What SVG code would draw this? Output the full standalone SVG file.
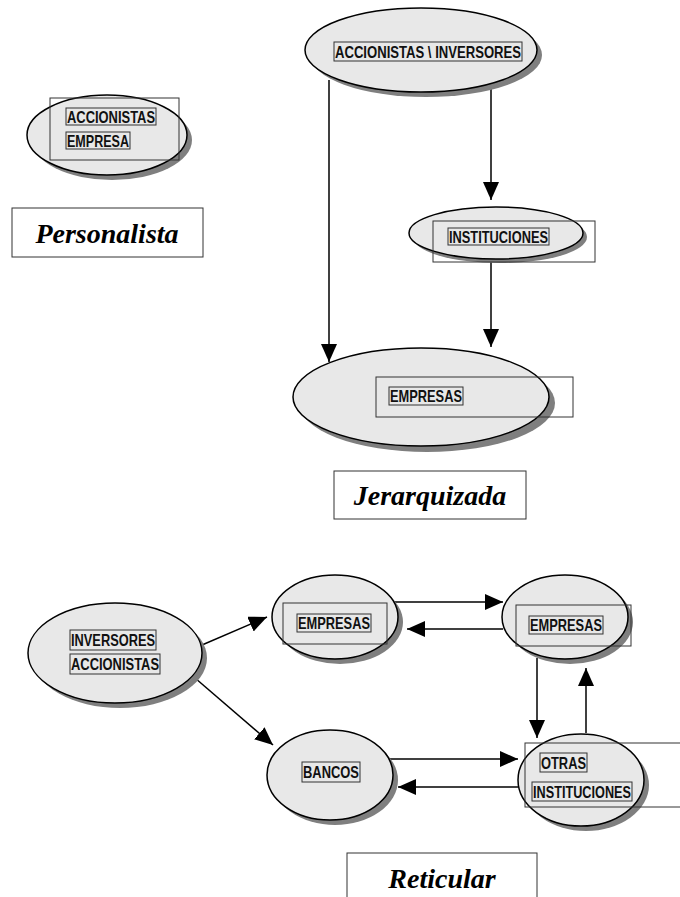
<svg xmlns="http://www.w3.org/2000/svg" width="680" height="897" viewBox="0 0 680 897">
<style>
.sh{fill:#7f7f7f;stroke:none}
.el{fill:#e8e8e8;stroke:#000;stroke-width:1.5}
.fr{fill:none;stroke:#333;stroke-width:1}
.tb{fill:none;stroke:#333;stroke-width:1}
.lb{font-family:"Liberation Sans Narrow","Liberation Sans",Arial,sans-serif;font-weight:bold;font-size:16.5px;fill:#111}
.ttl{font-family:"Liberation Serif","Times New Roman",serif;font-weight:bold;font-style:italic;font-size:28px;fill:#000;text-anchor:middle}
.tbox{fill:#fff;stroke:#333;stroke-width:1}
.cn{stroke:#000;stroke-width:1.5;fill:none;marker-end:url(#ah)}
</style>
<defs>
<marker id="ah" markerUnits="userSpaceOnUse" markerWidth="20" markerHeight="18" refX="18" refY="8" orient="auto">
<path d="M0,0 L18,8 L0,16 Z" fill="#000"/>
</marker>
</defs>
<rect width="680" height="897" fill="#fff"/>

<g id="connectors">
<line class="cn" x1="329" y1="80" x2="329" y2="362"/>
<line class="cn" x1="491" y1="86" x2="491" y2="200"/>
<line class="cn" x1="491" y1="262" x2="491" y2="347"/>
<line class="cn" x1="202" y1="645" x2="267" y2="617"/>
<line class="cn" x1="195" y1="678" x2="273" y2="745"/>
<line class="cn" x1="395" y1="602" x2="503" y2="602"/>
<line class="cn" x1="503" y1="629" x2="407" y2="629"/>
<line class="cn" x1="537" y1="658" x2="537" y2="738"/>
<line class="cn" x1="586" y1="733" x2="586" y2="668"/>
<line class="cn" x1="390" y1="759" x2="518" y2="759"/>
<line class="cn" x1="518" y1="787" x2="398" y2="787"/>
</g>

<g id="personalista">
<ellipse class="sh" cx="112" cy="140" rx="80" ry="40"/>
<ellipse class="el" cx="107" cy="135" rx="80" ry="40"/>
<rect class="fr" x="50" y="98" width="129" height="62"/>
<rect class="tb" x="66" y="108" width="90" height="17"/>
<text class="lb" x="67" y="123" textLength="88" lengthAdjust="spacingAndGlyphs">ACCIONISTAS</text>
<rect class="tb" x="66" y="132" width="64" height="17"/>
<text class="lb" x="67" y="147" textLength="62" lengthAdjust="spacingAndGlyphs">EMPRESA</text>
</g>
<g id="title-personalista">
<rect class="tbox" x="12" y="208" width="191" height="49"/>
<text class="ttl" x="107" y="243">Personalista</text>
</g>

<g id="accionistas-inversores">
<ellipse class="sh" cx="426" cy="55" rx="116" ry="42"/>
<ellipse class="el" cx="421" cy="50" rx="116" ry="42"/>
<rect class="tb" x="334" y="42" width="188" height="19"/>
<text class="lb" x="335" y="58" textLength="186" lengthAdjust="spacingAndGlyphs">ACCIONISTAS \ INVERSORES</text>
</g>

<g id="instituciones">
<ellipse class="sh" cx="500" cy="237" rx="87" ry="26"/>
<ellipse class="el" cx="496" cy="233" rx="87" ry="26"/>
<rect class="fr" x="433" y="221" width="162" height="41"/>
<rect class="tb" x="448" y="228" width="101" height="17"/>
<text class="lb" x="449" y="243" textLength="99" lengthAdjust="spacingAndGlyphs">INSTITUCIONES</text>
</g>

<g id="empresas-j">
<ellipse class="sh" cx="427" cy="403" rx="128" ry="49"/>
<ellipse class="el" cx="421" cy="397" rx="128" ry="49"/>
<rect class="fr" x="376" y="377" width="197" height="40"/>
<rect class="tb" x="389" y="387" width="74" height="18"/>
<text class="lb" x="390" y="402" textLength="72" lengthAdjust="spacingAndGlyphs">EMPRESAS</text>
</g>
<g id="title-jerarquizada">
<rect class="tbox" x="334" y="471" width="192" height="48"/>
<text class="ttl" x="430" y="505">Jerarquizada</text>
</g>

<g id="inversores-accionistas">
<ellipse class="sh" cx="120" cy="658" rx="87" ry="50"/>
<ellipse class="el" cx="115" cy="653" rx="87" ry="50"/>
<rect class="tb" x="70" y="630" width="86" height="20"/>
<text class="lb" x="71" y="646" textLength="84" lengthAdjust="spacingAndGlyphs">INVERSORES</text>
<rect class="tb" x="70" y="654" width="90" height="20"/>
<text class="lb" x="71" y="670" textLength="88" lengthAdjust="spacingAndGlyphs">ACCIONISTAS</text>
</g>

<g id="empresas-1">
<ellipse class="sh" cx="340" cy="622" rx="63" ry="42"/>
<ellipse class="el" cx="335" cy="617" rx="63" ry="42"/>
<rect class="fr" x="283" y="603" width="104" height="41"/>
<rect class="tb" x="297" y="614" width="74" height="18"/>
<text class="lb" x="298" y="629" textLength="72" lengthAdjust="spacingAndGlyphs">EMPRESAS</text>
</g>

<g id="empresas-2">
<ellipse class="sh" cx="570" cy="622" rx="63" ry="42"/>
<ellipse class="el" cx="565" cy="617" rx="63" ry="42"/>
<rect class="fr" x="516" y="605" width="115" height="41"/>
<rect class="tb" x="529" y="616" width="74" height="18"/>
<text class="lb" x="530" y="631" textLength="72" lengthAdjust="spacingAndGlyphs">EMPRESAS</text>
</g>

<g id="bancos">
<ellipse class="sh" cx="335" cy="780" rx="63" ry="45"/>
<ellipse class="el" cx="330" cy="775" rx="63" ry="45"/>
<rect class="tb" x="302" y="762" width="58" height="20"/>
<text class="lb" x="303" y="778" textLength="56" lengthAdjust="spacingAndGlyphs">BANCOS</text>
</g>

<g id="otras-instituciones">
<ellipse class="sh" cx="586" cy="785" rx="63" ry="46"/>
<ellipse class="el" cx="581" cy="780" rx="63" ry="46"/>
<rect class="fr" x="525" y="743" width="160" height="64"/>
<rect class="tb" x="540" y="753" width="47" height="19"/>
<text class="lb" x="541" y="769" textLength="45" lengthAdjust="spacingAndGlyphs">OTRAS</text>
<rect class="tb" x="532" y="782" width="100" height="19"/>
<text class="lb" x="533" y="798" textLength="98" lengthAdjust="spacingAndGlyphs">INSTITUCIONES</text>
</g>

<g id="title-reticular">
<rect class="tbox" x="347" y="853" width="190" height="50"/>
<text class="ttl" x="442" y="888">Reticular</text>
</g>
</svg>
